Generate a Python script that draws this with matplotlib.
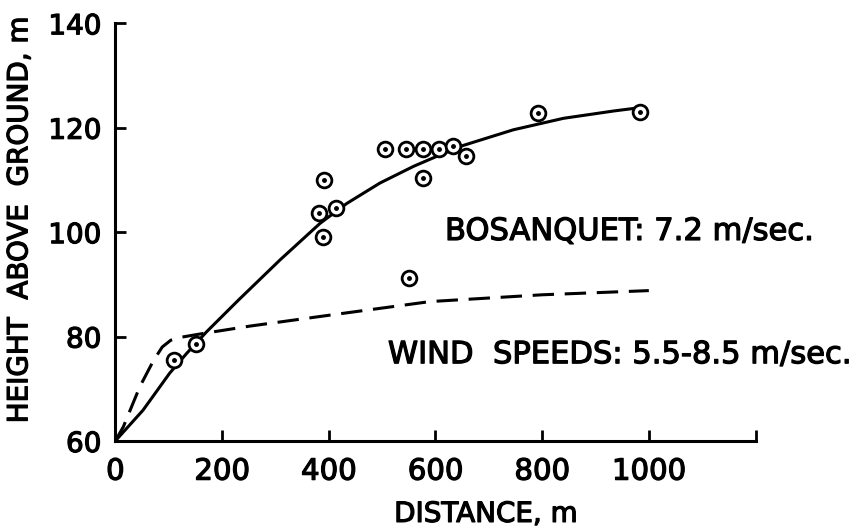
import matplotlib
matplotlib.use("Agg")
import matplotlib.pyplot as plt
import matplotlib.patheffects as pe

# ── Data ────────────────────────────────────────────────────────────────────
obs_dist = [110, 152, 382, 389, 392, 414, 505, 545, 551, 577, 577, 606, 633, 658, 793, 983]
obs_height = [75.5, 78.5, 103.6, 99.0, 110.0, 104.6, 116.0, 116.0, 91.3, 116.0, 110.3,
              116.0, 116.5, 114.5, 122.8, 123.0]

fit_dist = [0, 52, 102, 134, 171, 231, 309, 384, 434, 496, 559, 609, 652, 746, 840,
            934, 980]
fit_height = [60, 65.9, 73.0, 76.8, 80.9, 87.0, 94.7, 101.7, 105.5, 109.4, 112.6, 114.8,
              116.6, 119.6, 121.8, 123.2, 123.8]

bosanquet_dist = [0, 15, 46, 71, 88, 104, 125, 165, 252, 352, 409, 590, 800, 1000]
bosanquet_height = [60, 62.7, 70.4, 75.3, 78.0, 79.3, 79.9, 80.6, 82.0, 83.4, 84.2, 86.7,
                    88.0, 88.8]

x_ticks = [0, 200, 400, 600, 800, 1000, 1200]
x_ticklabels = ["0", "200", "400", "600", "800", "1000", ""]
y_ticks = [60, 80, 100, 120, 140]

plt.rcParams["font.family"] = ["DejaVu Sans"]
heavy = [pe.withStroke(linewidth=0.9, foreground="black")]

fig = plt.figure(figsize=(8.61, 5.28), dpi=100)
ax = fig.add_axes([0.1339, 0.1648, 0.7436, 0.7911])

ax.plot(fit_dist, fit_height, color="black", lw=2.2, solid_capstyle="round",
        solid_joinstyle="round")
ax.plot(bosanquet_dist, bosanquet_height, color="black", lw=2.2, dashes=(7, 3.5))

ax.plot(obs_dist, obs_height, "o", ms=10.6, mfc="white", mec="black", mew=2.0,
        ls="none", zorder=3)
ax.plot(obs_dist, obs_height, "o", ms=2.5, mfc="black", mec="black", ls="none", zorder=4)

ax.text(618, 98.5, "BOSANQUET: 7.2 m/sec.", fontsize=22, va="baseline", ha="left",
        path_effects=heavy)
ax.text(511, 74.9, "WIND  SPEEDS: 5.5-8.5 m/sec.", fontsize=22, va="baseline", ha="left",
        path_effects=heavy)

ax.set_xlim(0, 1200)
ax.set_ylim(60, 140)
ax.set_xticks(x_ticks)
ax.set_xticklabels(x_ticklabels)
ax.set_yticks(y_ticks)

for side in ["top", "right"]:
    ax.spines[side].set_visible(False)
for side in ["left", "bottom"]:
    ax.spines[side].set_linewidth(2.2)

ax.tick_params(axis="x", direction="in", length=8, width=2, labelsize=21, pad=12)
ax.tick_params(axis="y", direction="in", length=8, width=2, labelsize=20, pad=10)
for lbl in ax.get_xticklabels() + ax.get_yticklabels():
    lbl.set_path_effects(heavy)

ax.set_xlabel("DISTANCE, m", fontsize=20, path_effects=heavy)
ax.xaxis.set_label_coords(0.579, -0.141)
ax.set_ylabel("HEIGHT  ABOVE  GROUND, m", fontsize=20, path_effects=heavy)
ax.yaxis.set_label_coords(-0.128, 0.529)

fig.savefig("out.png", dpi=100)
